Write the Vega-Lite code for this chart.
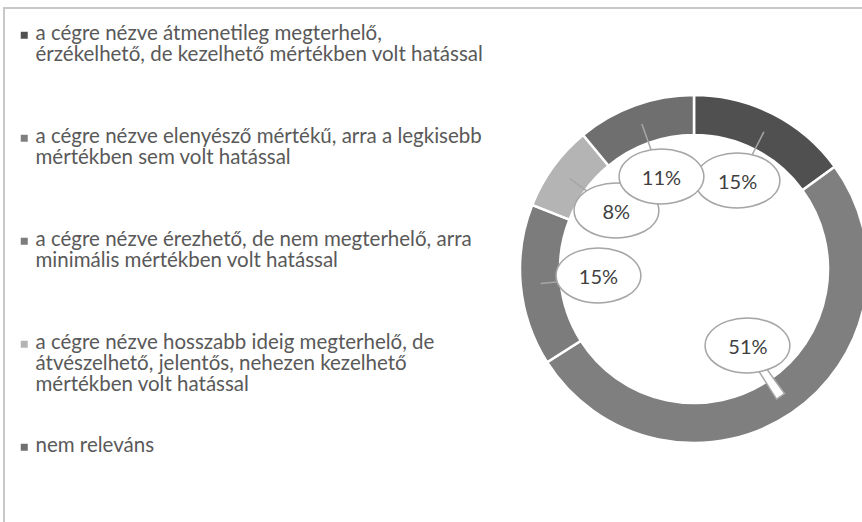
{
  "$schema": "https://vega.github.io/schema/vega-lite/v6.json",
  "width": 1380,
  "height": 522,
  "autosize": {"type": "none"},
  "padding": {"left": 4, "top": 8, "right": 0, "bottom": 0},
  "view": {"stroke": "#c8c8c8", "strokeWidth": 2},
  "config": {
    "view": {"stroke": "#c8c8c8", "strokeWidth": 2},
    "font": "Lato",
    "style": {"guide-label": {"dy": 5, "lineHeight": 21}}
  },
  "data": {
    "values": [
      {"rank": 1, "category": "a cégre nézve átmenetileg megterhelő,\nérzékelhető, de kezelhető mértékben volt hatással", "share": 0.15},
      {"rank": 2, "category": "a cégre nézve elenyésző mértékű, arra a legkisebb\nmértékben sem volt hatással", "share": 0.51},
      {"rank": 3, "category": "a cégre nézve érezhető, de nem megterhelő, arra\nminimális mértékben volt hatással", "share": 0.15},
      {"rank": 4, "category": "a cégre nézve hosszabb ideig megterhelő, de\nátvészelhető, jelentős, nehezen kezelhető\nmértékben volt hatással", "share": 0.08},
      {"rank": 5, "category": "nem releváns", "share": 0.11}
    ]
  },
  "encoding": {
    "theta": {"field": "share", "type": "quantitative", "stack": true},
    "order": {"field": "rank", "type": "quantitative"}
  },
  "layer": [
    {
      "mark": {"type": "arc", "innerRadius": 134, "outerRadius": 174, "stroke": "white", "strokeWidth": 2.5},
      "encoding": {
        "color": {
          "field": "category",
          "type": "nominal",
          "scale": {
            "domain": [
              "a cégre nézve átmenetileg megterhelő,\nérzékelhető, de kezelhető mértékben volt hatással",
              "a cégre nézve elenyésző mértékű, arra a legkisebb\nmértékben sem volt hatással",
              "a cégre nézve érezhető, de nem megterhelő, arra\nminimális mértékben volt hatással",
              "a cégre nézve hosszabb ideig megterhelő, de\nátvészelhető, jelentős, nehezen kezelhető\nmértékben volt hatással",
              "nem releváns"
            ],
            "range": ["#505050", "#7f7f7f", "#7c7c7c", "#b4b4b4", "#6f6f6f"]
          },
          "legend": {
            "orient": "none",
            "legendX": 10,
            "legendY": 17,
            "title": null,
            "padding": 0,
            "symbolType": "square",
            "symbolSize": 49,
            "symbolStrokeWidth": 0,
            "labelFont": "Lato",
            "labelFontSize": 20.5,
            "labelColor": "#595959",
            "labelLimit": 0,
            "labelOffset": 1,
            "labelBaseline": "alphabetic",
            "labelExpr": "split(datum.label, '\\n')",
            "gridAlign": "all",
            "rowPadding": 40,
            "encode": {
              "labels": {"dy": {"value": 5}, "lineHeight": {"value": 21}}
            }
          }
        }
      }
    },
    {
      "mark": {"type": "arc", "innerRadius": 96, "outerRadius": 154, "padAngle": 3, "fill": "white", "stroke": "#a6a6a6", "strokeWidth": 1.5}
    },
    {"mark": {"type": "text", "radius": 96, "text": "⬬", "font": "DejaVu Sans", "fontSize": 104, "fill": "white", "stroke": "#a6a6a6", "strokeWidth": 1.5, "baseline": "middle"}},
    {
      "mark": {"type": "text", "radius": 96, "font": "Lato", "fontSize": 20, "color": "#404040", "baseline": "middle"},
      "encoding": {"text": {"field": "share", "type": "quantitative", "format": ".0%"}}
    }
  ]
}
